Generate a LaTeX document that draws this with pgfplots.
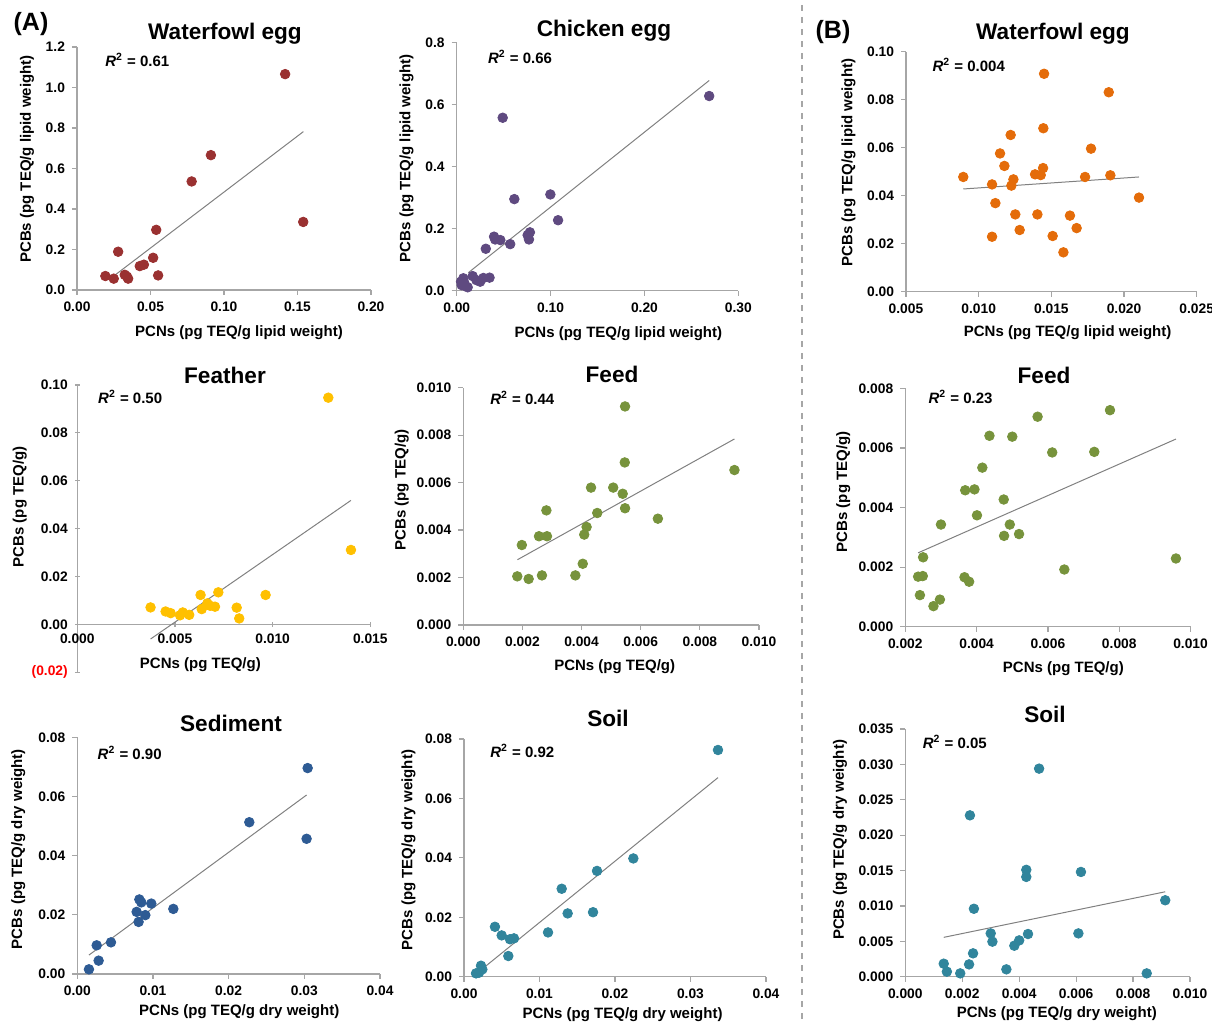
\documentclass[border=0pt]{standalone}
\usepackage{pgfplots}
\pgfplotsset{compat=1.18}
\usepackage{fontspec}
\setmainfont{Liberation Sans}
\definecolor{cWfA}{HTML}{9A3131}
\definecolor{cCh}{HTML}{5F4A80}
\definecolor{cWfB}{HTML}{E46C0A}
\definecolor{cFe}{HTML}{FFC000}
\definecolor{cFd}{HTML}{77933C}
\definecolor{cSed}{HTML}{2E5B94}
\definecolor{cSoil}{HTML}{31859C}
\pgfplotsset{
  panel/.style={
    scale only axis,
    anchor=south west,
    axis lines=left,
    axis line style={-, draw=black!35, line width=0.6pt},
    tick style={draw=black!35, line width=0.6pt},
    major tick length=2.5pt,
    tick align=outside,
    scaled ticks=false,
    hide obscured x ticks=false,
    hide obscured y ticks=false,
    ticklabel style={font=\fontsize{6.9}{8}\selectfont\bfseries},
    label style={font=\fontsize{7.5}{9}\selectfont\bfseries},
    xlabel style={anchor=center},
    ylabel style={anchor=center},
    /pgf/number format/assume math mode=true,
    clip=false,
  },
  noarrows/.style={
    every inner x axis line/.append style={-},
    every inner y axis line/.append style={-},
    every outer x axis line/.append style={-},
    every outer y axis line/.append style={-},
    axis line style={-},
  },
  pts/.style={only marks, mark=*, mark size=2.4pt, mark options={draw=#1, fill=#1}},
  trend/.style={no marks, draw=black!50, line width=0.5pt},
}
\tikzset{
  rlab/.style={anchor=west, font=\fontsize{7.5}{9}\selectfont\bfseries, inner sep=0pt},
  ttl/.style={font=\fontsize{11.3}{13}\selectfont\bfseries, inner sep=0pt},
}
\newcommand{\Rsq}[1]{\textit{R}\textsuperscript{2} = #1}
\begin{document}
\begin{tikzpicture}
\path[use as bounding box] (0,0) rectangle (606pt,512pt);
\draw[black!35, dashed, line width=0.6pt] (401pt,509.5pt) -- (401pt,0pt);
\node[font=\fontsize{12.5}{14}\selectfont\bfseries, inner sep=0pt] at (15.5pt,500pt) {(A)};
\node[font=\fontsize{12.5}{14}\selectfont\bfseries, inner sep=0pt] at (416.5pt,496pt) {(B)};
\node[ttl] at (112.5pt,495pt) {Waterfowl egg};
\node[ttl] at (302pt,496.5pt) {Chicken egg};
\node[ttl] at (526.5pt,495pt) {Waterfowl egg};
\node[ttl] at (112.5pt,324.5pt) {Feather};
\node[ttl] at (306pt,325pt) {Feed};
\node[ttl] at (522pt,324.5pt) {Feed};
\node[ttl] at (115.5pt,150.5pt) {Sediment};
\node[ttl] at (304pt,153pt) {Soil};
\node[ttl] at (522.5pt,155pt) {Soil};

% P1 Waterfowl egg (A)
\begin{axis}[panel, noarrows, at={(38.5pt,367pt)}, width=147pt, height=121.5pt,
  xmin=0, xmax=0.2, ymin=0, ymax=1.2,
  xtick={0,0.05,0.1,0.15,0.2}, xticklabels={0.00,0.05,0.10,0.15,0.20},
  ytick={0,0.2,0.4,0.6,0.8,1.0,1.2}, yticklabels={0.0,0.2,0.4,0.6,0.8,1.0,1.2},
  xlabel={PCNs (pg TEQ/g lipid weight)}, ylabel={PCBs (pg TEQ/g lipid weight)},
  xlabel style={at={(axis description cs:0.551,-0.177)}},
  ylabel style={at={(axis description cs:-0.170,0.539)}}]
\addplot[pts=cWfA] coordinates {(0.0193,0.069) (0.025,0.056) (0.028,0.189) (0.0325,0.075) (0.034,0.066) (0.0348,0.056) (0.0427,0.118) (0.0455,0.125) (0.0518,0.159) (0.0539,0.297) (0.0552,0.072) (0.078,0.536) (0.0911,0.666) (0.1416,1.066) (0.1539,0.336)};
\addplot[trend] coordinates {(0.025,0.069) (0.154,0.782)};
\node[rlab] at (rel axis cs:0.095,0.947) {\Rsq{0.61}};
\end{axis}

% P2 Chicken egg
\begin{axis}[panel, noarrows, at={(228.35pt,366.65pt)}, width=140.8pt, height=124.2pt,
  xmin=0, xmax=0.3, ymin=0, ymax=0.8,
  xtick={0,0.1,0.2,0.3}, xticklabels={0.00,0.10,0.20,0.30},
  ytick={0,0.2,0.4,0.6,0.8}, yticklabels={0.0,0.2,0.4,0.6,0.8},
  xlabel={PCNs (pg TEQ/g lipid weight)}, ylabel={PCBs (pg TEQ/g lipid weight)},
  xlabel style={at={(axis description cs:0.574,-0.171)}},
  ylabel style={at={(axis description cs:-0.178,0.533)}}]
\addplot[pts=cCh] coordinates {(0.269,0.627) (0.049,0.557) (0.0614,0.295) (0.0998,0.310) (0.108,0.227) (0.0398,0.174) (0.041,0.165) (0.0465,0.163) (0.057,0.150) (0.031,0.135) (0.0756,0.179) (0.078,0.188) (0.077,0.165) (0.017,0.047) (0.0284,0.041) (0.035,0.042) (0.025,0.029) (0.021,0.034) (0.0071,0.040) (0.0053,0.018) (0.0089,0.015) (0.0117,0.011) (0.008,0.026) (0.0046,0.029)};
\addplot[trend] coordinates {(0.0124,0.058) (0.269,0.677)};
\node[rlab] at (rel axis cs:0.11,0.94) {\Rsq{0.66}};
\end{axis}

% P3 Waterfowl egg (B)
\begin{axis}[panel, noarrows, at={(453pt,366.15pt)}, width=145.35pt, height=120pt,
  xmin=0.005, xmax=0.025, ymin=0, ymax=0.1,
  xtick={0.005,0.01,0.015,0.02,0.025}, xticklabels={0.005,0.010,0.015,0.020,0.025},
  ytick={0,0.02,0.04,0.06,0.08,0.1}, yticklabels={0.00,0.02,0.04,0.06,0.08,0.10},
  xlabel={PCNs (pg TEQ/g lipid weight)}, ylabel={PCBs (pg TEQ/g lipid weight)},
  xlabel style={at={(axis description cs:0.556,-0.172)}},
  ylabel style={at={(axis description cs:-0.198,0.538)}}]
\addplot[pts=cWfB] coordinates {(0.00894,0.0478) (0.01092,0.0447) (0.01115,0.0369) (0.01092,0.0229) (0.01147,0.0576) (0.01177,0.0524) (0.0122,0.0653) (0.01239,0.0468) (0.01225,0.0442) (0.01252,0.0322) (0.01282,0.0257) (0.01388,0.0489) (0.01427,0.0486) (0.01443,0.0515) (0.01445,0.0681) (0.0145,0.0908) (0.01404,0.0322) (0.01509,0.0232) (0.01583,0.0164) (0.01628,0.0317) (0.01674,0.0265) (0.01732,0.0478) (0.01773,0.0596) (0.01895,0.0831) (0.01906,0.0485) (0.02103,0.0392)};
\addplot[trend] coordinates {(0.00894,0.0428) (0.02103,0.0478)};
\node[rlab] at (rel axis cs:0.09,0.944) {\Rsq{0.004}};
\end{axis}

% P4 Feather
\begin{axis}[panel, at={(38.65pt,175.85pt)}, width=146.5pt, height=143.65pt,
  axis x line=middle, axis y line=left, noarrows,
  xmin=0, xmax=0.015, ymin=-0.02, ymax=0.1,
  xtick={0,0.005,0.01,0.015}, xticklabels={0.000,0.005,0.010,0.015},
  ytick={-0.02,0,0.02,0.04,0.06,0.08,0.1}, yticklabels={\textcolor{red}{(0.02)},0.00,0.02,0.04,0.06,0.08,0.10},
  xlabel={PCNs (pg TEQ/g)}, ylabel={PCBs (pg TEQ/g)},
  xlabel style={at={(axis description cs:0.42,0.025)}, anchor=center, font=\fontsize{7.5}{9}\selectfont\bfseries},
  ylabel style={at={(axis description cs:-0.196,0.576)}}]
\addplot[pts=cFe] coordinates {(0.00375,0.0071) (0.00452,0.0054) (0.00478,0.0047) (0.00526,0.0038) (0.0054,0.0050) (0.00573,0.0040) (0.00631,0.0123) (0.00637,0.0064) (0.00666,0.0088) (0.0068,0.0078) (0.00705,0.0074) (0.00722,0.0134) (0.00816,0.0070) (0.00829,0.0025) (0.00964,0.0123) (0.01285,0.0947) (0.01401,0.0311)};
\addplot[trend] coordinates {(0.00375,-0.0061) (0.01401,0.0518)};
\node[rlab] at (rel axis cs:0.07,0.958) {\Rsq{0.50}};
\end{axis}

% P5 Feed (A)
\begin{axis}[panel, noarrows, at={(231.65pt,199.5pt)}, width=147.85pt, height=118.65pt,
  xmin=0, xmax=0.01, ymin=0, ymax=0.01,
  xtick={0,0.002,0.004,0.006,0.008,0.01}, xticklabels={0.000,0.002,0.004,0.006,0.008,0.010},
  ytick={0,0.002,0.004,0.006,0.008,0.01}, yticklabels={0.000,0.002,0.004,0.006,0.008,0.010},
  xlabel={PCNs (pg TEQ/g)}, ylabel={PCBs (pg TEQ/g)},
  xlabel style={at={(axis description cs:0.512,-0.176)}},
  ylabel style={at={(axis description cs:-0.208,0.569)}}]
\addplot[pts=cFd] coordinates {(0.001826,0.00205) (0.00198,0.00337) (0.00221,0.00194) (0.00256,0.00374) (0.00266,0.00209) (0.00281,0.00483) (0.00283,0.00374) (0.00379,0.00209) (0.00404,0.00258) (0.00409,0.00381) (0.00417,0.00413) (0.00432,0.00579) (0.00453,0.00472) (0.00507,0.00579) (0.00539,0.00553) (0.00547,0.00921) (0.00546,0.00685) (0.00547,0.00492) (0.00658,0.00448) (0.00917,0.00653)};
\addplot[trend] coordinates {(0.00183,0.00275) (0.00917,0.00784)};
\node[rlab] at (rel axis cs:0.09,0.957) {\Rsq{0.44}};
\end{axis}

% P6 Feed (B)
\begin{axis}[panel, noarrows, at={(452.65pt,198.65pt)}, width=142.65pt, height=119.15pt,
  xmin=0.002, xmax=0.01, ymin=0, ymax=0.008,
  xtick={0.002,0.004,0.006,0.008,0.01}, xticklabels={0.002,0.004,0.006,0.008,0.010},
  ytick={0,0.002,0.004,0.006,0.008}, yticklabels={0.000,0.002,0.004,0.006,0.008},
  xlabel={PCNs (pg TEQ/g)}, ylabel={PCBs (pg TEQ/g)},
  xlabel style={at={(axis description cs:0.554,-0.175)}},
  ylabel style={at={(axis description cs:-0.217,0.566)}}]
\addplot[pts=cFd] coordinates {(0.00236,0.00168) (0.00249,0.00170) (0.0025,0.00233) (0.00241,0.00106) (0.00279,0.00069) (0.00297,0.00091) (0.003,0.00343) (0.00366,0.00166) (0.00379,0.00151) (0.00368,0.00458) (0.00394,0.00461) (0.00401,0.00374) (0.00416,0.00534) (0.00436,0.00641) (0.00476,0.00427) (0.00477,0.00305) (0.00493,0.00343) (0.005,0.00638) (0.00519,0.00311) (0.00571,0.00705) (0.00612,0.00585) (0.00646,0.00192) (0.0073,0.00587) (0.00774,0.00727) (0.00959,0.00229)};
\addplot[trend] coordinates {(0.00236,0.00248) (0.00959,0.0063)};
\node[rlab] at (rel axis cs:0.08,0.964) {\Rsq{0.23}};
\end{axis}

% P7 Sediment
\begin{axis}[panel, noarrows, at={(38.65pt,25pt)}, width=151.35pt, height=118.35pt,
  xmin=0, xmax=0.04, ymin=0, ymax=0.08,
  xtick={0,0.01,0.02,0.03,0.04}, xticklabels={0.00,0.01,0.02,0.03,0.04},
  ytick={0,0.02,0.04,0.06,0.08}, yticklabels={0.00,0.02,0.04,0.06,0.08},
  xlabel={PCNs (pg TEQ/g dry weight)}, ylabel={PCBs (pg TEQ/g dry weight)},
  xlabel style={at={(axis description cs:0.535,-0.159)}},
  ylabel style={at={(axis description cs:-0.195,0.528)}}]
\addplot[pts=cSed] coordinates {(0.00154,0.00158) (0.00256,0.00969) (0.00282,0.00451) (0.00445,0.0107) (0.00784,0.0210) (0.0081,0.0176) (0.0082,0.0252) (0.00846,0.0242) (0.00899,0.0199) (0.00978,0.0238) (0.01269,0.0220) (0.02273,0.0513) (0.0303,0.0457) (0.03044,0.0696)};
\addplot[trend] coordinates {(0.00154,0.0064) (0.0303,0.0605)};
\node[rlab] at (rel axis cs:0.066,0.934) {\Rsq{0.90}};
\end{axis}

% P8 Soil (A)
\begin{axis}[panel, noarrows, at={(232pt,23.65pt)}, width=151pt, height=118.85pt,
  xmin=0, xmax=0.04, ymin=0, ymax=0.08,
  xtick={0,0.01,0.02,0.03,0.04}, xticklabels={0.00,0.01,0.02,0.03,0.04},
  ytick={0,0.02,0.04,0.06,0.08}, yticklabels={0.00,0.02,0.04,0.06,0.08},
  xlabel={PCNs (pg TEQ/g dry weight)}, ylabel={PCBs (pg TEQ/g dry weight)},
  xlabel style={at={(axis description cs:0.525,-0.161)}},
  ylabel style={at={(axis description cs:-0.184,0.533)}}]
\addplot[pts=cSoil] coordinates {(0.00159,0.00112) (0.00199,0.00135) (0.00225,0.0037) (0.00243,0.00247) (0.0041,0.0168) (0.00499,0.0139) (0.00587,0.00696) (0.00609,0.0126) (0.00662,0.0129) (0.01113,0.0149) (0.01294,0.0296) (0.01373,0.0213) (0.01709,0.0217) (0.01762,0.0356) (0.02243,0.0398) (0.03364,0.0763)};
\addplot[trend] coordinates {(0.00159,0.0009) (0.03364,0.067)};
\node[rlab] at (rel axis cs:0.086,0.95) {\Rsq{0.92}};
\end{axis}

% P9 Soil (B)
\begin{axis}[panel, noarrows, at={(452.65pt,23.65pt)}, width=142.35pt, height=123.85pt,
  xmin=0, xmax=0.01, ymin=0, ymax=0.035,
  xtick={0,0.002,0.004,0.006,0.008,0.01}, xticklabels={0.000,0.002,0.004,0.006,0.008,0.010},
  ytick={0,0.005,0.01,0.015,0.02,0.025,0.03,0.035}, yticklabels={0.000,0.005,0.010,0.015,0.020,0.025,0.030,0.035},
  xlabel={PCNs (pg TEQ/g dry weight)}, ylabel={PCBs (pg TEQ/g dry weight)},
  xlabel style={at={(axis description cs:0.532,-0.148)}},
  ylabel style={at={(axis description cs:-0.229,0.552)}}]
\addplot[pts=cSoil] coordinates {(0.00135,0.00184) (0.00146,0.00071) (0.00193,0.00047) (0.00224,0.00174) (0.00238,0.0033) (0.00227,0.0228) (0.00241,0.0096) (0.003,0.00612) (0.00306,0.00495) (0.00355,0.00104) (0.00383,0.00438) (0.004,0.00513) (0.00425,0.0151) (0.00425,0.0141) (0.00431,0.00603) (0.0047,0.0294) (0.00608,0.00612) (0.00617,0.0148) (0.00848,0.00047) (0.00913,0.0108)};
\addplot[trend] coordinates {(0.00135,0.00556) (0.00913,0.0120)};
\node[rlab] at (rel axis cs:0.06,0.947) {\Rsq{0.05}};
\end{axis}
\end{tikzpicture}
\end{document}
